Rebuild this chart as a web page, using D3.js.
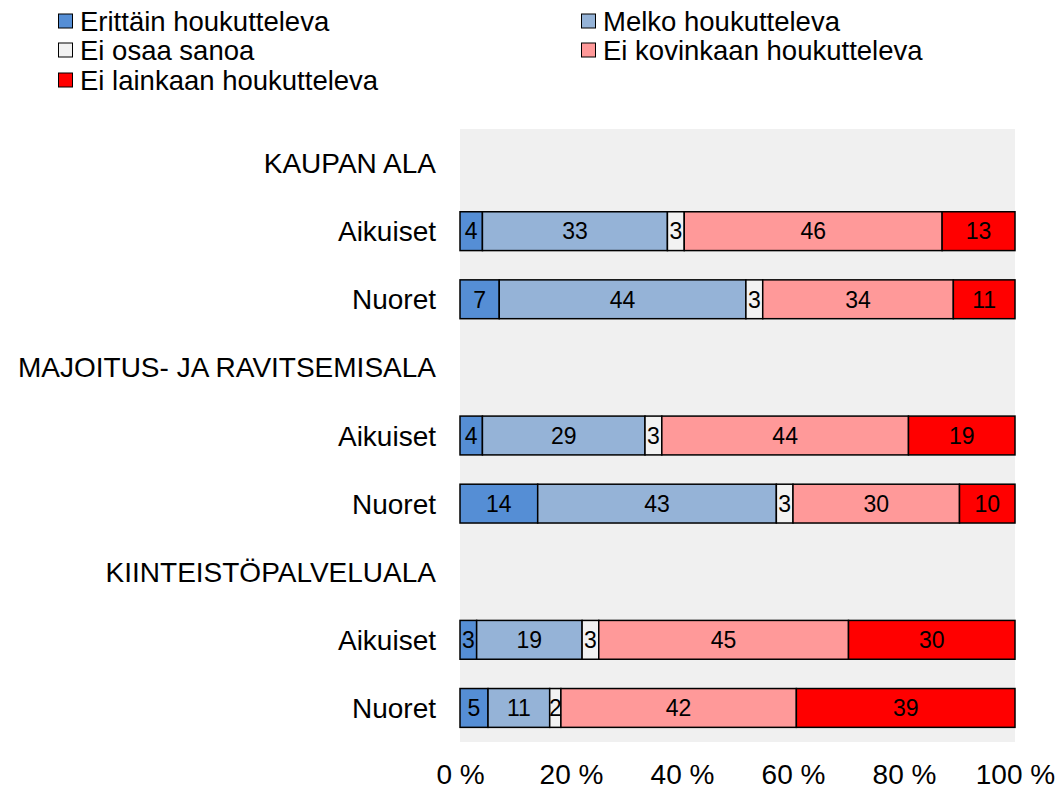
<!DOCTYPE html>
<html>
<head>
<meta charset="utf-8">
<script src="https://cdn.jsdelivr.net/npm/d3@7"></script>
<style>
  body { margin: 0; background: #fff; }
  text { font-family: "Liberation Sans", Arial, sans-serif; }
</style>
</head>
<body>
<div class="chart"></div>
<script>
////////////////////////////////// data

var seriesNames = ["Erittäin houkutteleva", "Melko houkutteleva", "Ei osaa sanoa", "Ei kovinkaan houkutteleva", "Ei lainkaan houkutteleva"];
var seriesColors = ["#558ed5", "#95b3d7", "#f2f2f2", "#ff9999", "#ff0000"];

// rows top to bottom; header rows have no values
var rowLabels = ["KAUPAN ALA", "Aikuiset", "Nuoret",
                 "MAJOITUS- JA RAVITSEMISALA", "Aikuiset", "Nuoret",
                 "KIINTEISTÖPALVELUALA", "Aikuiset", "Nuoret"];

var erittain   = [null, 4, 7, null, 4, 14, null, 3, 5];
var melko      = [null, 33, 44, null, 29, 43, null, 19, 11];
var eiOsaa     = [null, 3, 3, null, 3, 3, null, 3, 2];
var eiKovin    = [null, 46, 34, null, 44, 30, null, 45, 42];
var eiLainkaan = [null, 13, 11, null, 19, 10, null, 30, 39];

var tickValues = [0, 0.2, 0.4, 0.6, 0.8, 1];

////////////////////////////////// setup

var width = 1060, height = 790;
var margin = { top: 129, right: 45, bottom: 48, left: 460 };
var chart_width = width - margin.left - margin.right;
var chart_height = height - margin.top - margin.bottom;

var svg = d3.select(".chart").append("svg")
    .attr("width", width).attr("height", height);

var chart = svg.append("g")
    .attr("transform", "translate(" + margin.left + "," + margin.top + ")");

var x = d3.scaleLinear().domain([0, 1]).range([0, chart_width]);
var y = d3.scaleBand().domain(d3.range(rowLabels.length)).range([0, chart_height]).paddingInner(0.43).paddingOuter(0.215);

// plot background
chart.append("rect")
    .attr("width", chart_width).attr("height", chart_height)
    .style("fill", "#f0f0f0");

// build stacked rows (normalized to 100 %)
var allSeries = [erittain, melko, eiOsaa, eiKovin, eiLainkaan];
var rows = [];
rowLabels.forEach(function(label, i){
    if (erittain[i] === null) return;
    var vals = allSeries.map(function(s){ return s[i]; });
    var total = d3.sum(vals);
    var acc = 0;
    vals.forEach(function(v, k){
        rows.push({row: i, series: k, value: v, x0: acc / total, x1: (acc + v) / total});
        acc += v;
    });
});

chart.selectAll(".seg").data(rows).enter().append("rect")
    .attr("class", "seg")
    .attr("x", function(d){ return x(d.x0); })
    .attr("y", function(d){ return y(d.row); })
    .attr("width", function(d){ return x(d.x1) - x(d.x0); })
    .attr("height", y.bandwidth())
    .style("fill", function(d){ return seriesColors[d.series]; })
    .style("stroke", "#000")
    .style("stroke-width", 1.5);

chart.selectAll(".seglabel").data(rows).enter().append("text")
    .attr("class", "seglabel")
    .attr("x", function(d){ return (x(d.x0) + x(d.x1)) / 2; })
    .attr("y", function(d){ return y(d.row) + y.bandwidth() / 2; })
    .attr("dy", "0.36em")
    .attr("text-anchor", "middle")
    .style("font-size", "23px")
    .style("fill", "#000")
    .text(function(d){ return d.value; });

// row labels
svg.selectAll(".rowlabel").data(rowLabels).enter().append("text")
    .attr("class", "rowlabel")
    .attr("x", margin.left - 24)
    .attr("y", function(d, i){ return margin.top + y(i) + y.bandwidth() / 2; })
    .attr("dy", "0.36em")
    .attr("text-anchor", "end")
    .style("font-size", "28px")
    .text(function(d){ return d; });

// x axis
var xAxis = d3.axisBottom(x).tickValues(tickValues).tickSize(0).tickPadding(22)
    .tickFormat(function(d){ return Math.round(d * 100) + " %"; });
var ax = chart.append("g")
    .attr("transform", "translate(0," + chart_height + ")")
    .call(xAxis);
ax.select(".domain").remove();
ax.selectAll("text").style("font-size", "28px").style("fill", "#000")
    .style("font-family", '"Liberation Sans", Arial, sans-serif');

// legend
var legendPos = [[58, 21], [581, 21], [58, 50], [581, 50], [58, 80]];
var legend = svg.selectAll(".legend").data(seriesNames).enter().append("g")
    .attr("class", "legend")
    .attr("transform", function(d, i){ return "translate(" + legendPos[i][0] + "," + legendPos[i][1] + ")"; });
legend.append("rect")
    .attr("x", 0.5).attr("y", -7).attr("width", 14).attr("height", 14)
    .style("fill", function(d, i){ return seriesColors[i]; })
    .style("stroke", "#000").style("stroke-width", 1);
legend.append("text")
    .attr("x", 22).attr("dy", "0.36em")
    .style("font-size", "27.5px")
    .text(function(d){ return d; });
</script>
</body>
</html>
